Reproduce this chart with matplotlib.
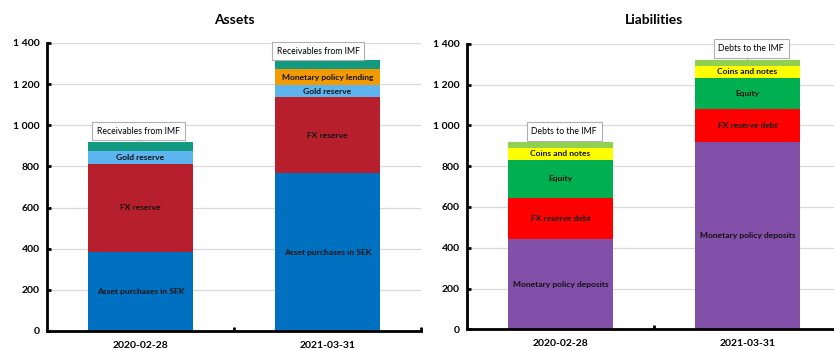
import matplotlib
matplotlib.use("Agg")
import matplotlib.pyplot as plt
import numpy as np

plt.rcParams["font.family"] = ["Lato", "DejaVu Sans"]

dates = ["2020-02-28", "2021-03-31"]

# SEK billion, stacked bottom to top
asset_names = ["Asset purchases in SEK", "FX reserve", "Gold reserve",
               "Monetary policy lending", "Receivables from IMF"]
asset_purchases = [383, 766]
fx_reserve = [430, 371]
gold_reserve = [62, 57]
mp_lending = [0, 78]
imf_receivables = [42, 44]

liab_names = ["Monetary policy deposits", "FX reserve debt", "Equity",
              "Coins and notes", "Debts to the IMF"]
mp_deposits = [443, 920]
fx_debt = [202, 158]
equity = [185, 154]
coins_notes = [60, 61]
imf_debts = [30, 28]

asset_colors = ["#0070C0", "#B81F2C", "#5DB4EE", "#F39A00", "#119A80"]
liab_colors = ["#8350A9", "#FF0000", "#00B050", "#FFFF00", "#92D050"]


def fmt_thousands(v, _pos):
    return f"{int(v):,}".replace(",", " ")


def stacked_panel(ax, title, names, series, colors, callout_offsets):
    x = np.arange(len(dates))
    bottoms = np.zeros(len(dates))
    for name, vals, col in zip(names, series, colors):
        vals = np.asarray(vals, dtype=float)
        ax.bar(x, vals, bottom=bottoms, width=0.56, color=col, zorder=2)
        is_top = name == names[-1]
        for i, v in enumerate(vals):
            if v <= 0:
                continue
            if is_top:
                top = bottoms[i] + v
                dx, dy = callout_offsets[i]
                ax.annotate(name, xy=(x[i], top), xytext=(x[i] + dx, top + dy),
                            ha="center", va="center", fontsize=6.2,
                            bbox=dict(boxstyle="square,pad=0.55", fc="white",
                                      ec="#B0B0B0", lw=0.8),
                            arrowprops=dict(arrowstyle="-", color="#B0B0B0", lw=0.8),
                            zorder=4)
            else:
                ax.text(x[i], bottoms[i] + v / 2, name, ha="center", va="center",
                        fontsize=6.1, fontweight="bold", color="#111111", zorder=3)
        bottoms = bottoms + vals

    ax.set_xlim(-0.5, len(dates) - 0.5)
    ax.set_ylim(0, 1400)
    ax.set_yticks(np.arange(0, 1401, 200))
    ax.yaxis.set_major_formatter(matplotlib.ticker.FuncFormatter(fmt_thousands))
    ax.set_xticks(x)
    ax.set_xticklabels(dates, fontweight="bold", fontsize=7.5)
    ax.set_xticks([0.5, 1.5], minor=True)
    ax.tick_params(axis="x", which="major", length=0, pad=7)
    ax.tick_params(axis="x", which="minor", length=3, width=2, direction="in")
    ax.tick_params(axis="y", length=3, width=2, direction="in", labelsize=7.5, pad=5)
    for lab in ax.get_yticklabels():
        lab.set_fontweight("bold")
    ax.grid(axis="y", color="#D9D9D9", lw=0.9, zorder=0)
    ax.set_axisbelow(True)
    for side in ("top", "right"):
        ax.spines[side].set_visible(False)
    for side in ("left", "bottom"):
        ax.spines[side].set_linewidth(2)
        ax.spines[side].set_color("black")
    ax.set_title(title, fontsize=10, fontweight="bold", pad=14)


fig = plt.figure(figsize=(8.34, 3.5), dpi=100)
ax_a = fig.add_axes([47 / 834, 19 / 350, 374 / 834, 288 / 350])
ax_l = fig.add_axes([467 / 834, 20.7 / 350, 374 / 834, 285.6 / 350])

stacked_panel(ax_a, "Assets", asset_names,
              [asset_purchases, fx_reserve, gold_reserve, mp_lending, imf_receivables],
              asset_colors, [(-0.01, 55), (-0.05, 45)])
stacked_panel(ax_l, "Liabilities", liab_names,
              [mp_deposits, fx_debt, equity, coins_notes, imf_debts],
              liab_colors, [(0.02, 50), (0.02, 55)])

fig.savefig("out.png", dpi=100)
